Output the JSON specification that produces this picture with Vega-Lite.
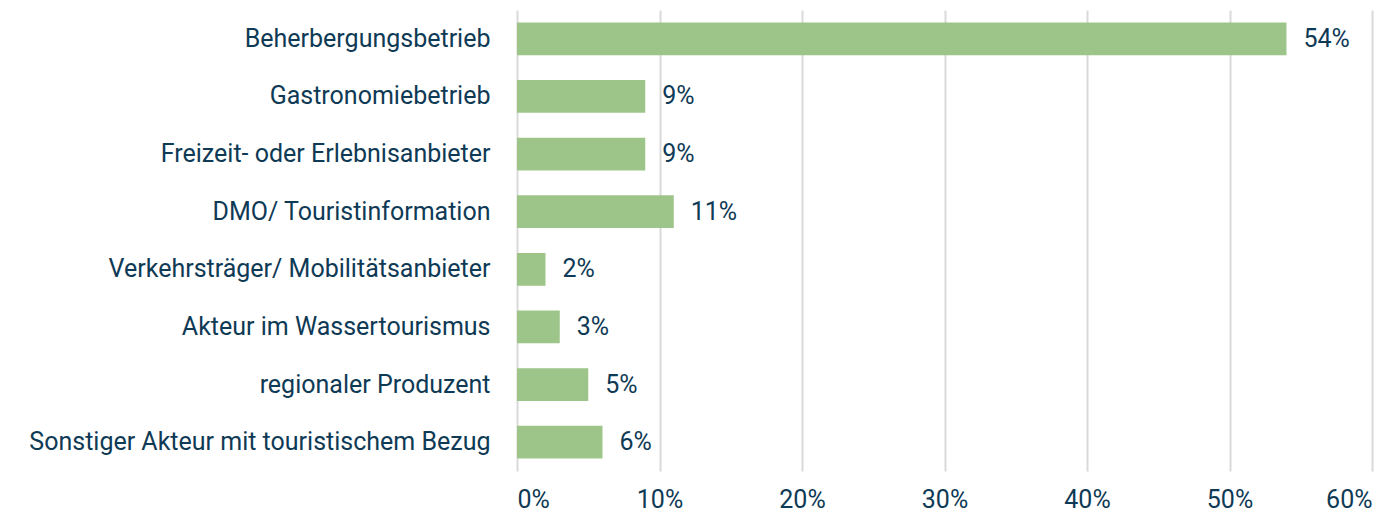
{
  "$schema": "https://vega.github.io/schema/vega-lite/v6.json",
  "autosize": "none",
  "width": 855,
  "height": 461,
  "padding": {"left": 517, "top": 10, "right": 24, "bottom": 46},
  "background": "white",
  "data": {
    "values": [
      {"cat": "Beherbergungsbetrieb", "v": 0.54},
      {"cat": "Gastronomiebetrieb", "v": 0.09},
      {"cat": "Freizeit- oder Erlebnisanbieter", "v": 0.09},
      {"cat": "DMO/ Touristinformation", "v": 0.11},
      {"cat": "Verkehrsträger/ Mobilitätsanbieter", "v": 0.02},
      {"cat": "Akteur im Wassertourismus", "v": 0.03},
      {"cat": "regionaler Produzent", "v": 0.05},
      {"cat": "Sonstiger Akteur mit touristischem Bezug", "v": 0.06}
    ]
  },
  "config": {
    "view": {"stroke": null},
    "font": "Roboto"
  },
  "encoding": {
    "y": {
      "field": "cat", "type": "nominal", "sort": null, "title": null,
      "scale": {"paddingInner": 0.43, "paddingOuter": 0.215},
      "axis": {"ticks": false, "domain": false, "labelFontSize": 25, "labelColor": "#0f3a55", "labelPadding": 27, "labelFont": "Roboto", "labelLimit": 600}
    },
    "x": {
      "field": "v", "type": "quantitative", "title": null,
      "scale": {"domain": [0, 0.6], "nice": false},
      "axis": {"format": ".0%", "values": [0, 0.1, 0.2, 0.3, 0.4, 0.5, 0.6], "ticks": false, "domain": false, "grid": true, "gridColor": "#d9d9d9", "gridWidth": 2, "labelFontSize": 25, "labelColor": "#0f3a55", "labelPadding": 16, "labelFont": "Roboto"}
    }
  },
  "layer": [
    {"mark": {"type": "bar", "color": "#9dc58a"}},
    {
      "mark": {"type": "text", "align": "left", "dx": 17, "fontSize": 25, "color": "#0f3a55", "font": "Roboto"},
      "encoding": {"text": {"field": "v", "type": "quantitative", "format": ".0%"}}
    }
  ]
}
